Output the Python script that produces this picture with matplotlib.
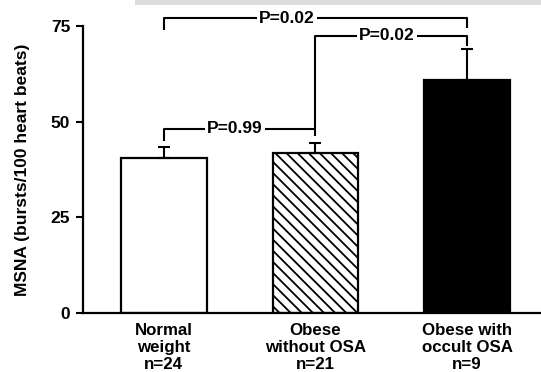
import matplotlib.pyplot as plt
from matplotlib.patches import Rectangle

plt.rcParams['font.family'] = 'Liberation Sans'
plt.rcParams['font.weight'] = 'bold'
plt.rcParams['hatch.linewidth'] = 1.3

# Data
groups = ['Normal\nweight\nn=24', 'Obese\nwithout OSA\nn=21', 'Obese with\noccult OSA\nn=9']
means = [40.5, 41.8, 60.9]
sem = [2.9, 2.7, 8.1]
yticks = [0, 25, 50, 75]

# Significance brackets: (left bar, right bar, line height, left leg end, right leg end, label, label x)
brackets = [
    (0, 2, 77.1, 74.2, 74.8, 'P=0.02', 0.81),
    (1, 2, 72.4, 48.1, 70.0, 'P=0.02', 1.47),
    (0, 1, 48.1, 45.2, 46.5, 'P=0.99', 0.47),
]

fig = plt.figure(figsize=(5.41, 3.72), dpi=100)
ax = fig.add_axes([0.153, 0.159, 0.847, 0.771])

# Grey strip across the top (scan shadow)
fig.patches.append(Rectangle((0.25, 0.986), 0.75, 0.014, transform=fig.transFigure,
                             facecolor='#dcdcdc', edgecolor='none'))

x = range(len(groups))
faces = ['white', 'white', 'black']
hatches = [None, '\\\\\\', None]
for i in x:
    ax.bar(i, means[i], width=0.565, color=faces[i], edgecolor='black',
           linewidth=1.6, hatch=hatches[i], zorder=2)
    # upward-only error bar
    ax.errorbar(i, means[i], yerr=[[0], [sem[i]]], fmt='none', ecolor='black',
                elinewidth=1.5, capsize=4, capthick=1.5, zorder=3)

for a, b, h, la, lb, label, tx in brackets:
    ax.plot([a, a, b, b], [la, h, h, lb], color='black', lw=1.5, clip_on=False, zorder=4)
    ax.text(tx, h, label, ha='center', va='center', fontsize=12.5, fontweight='bold',
            bbox=dict(facecolor='white', edgecolor='none', pad=1.5), zorder=5, clip_on=False)

ax.set_xlim(-0.533, 2.487)
ax.set_ylim(0, 75)
ax.set_yticks(yticks)
ax.set_xticks(list(x))
ax.set_xticklabels(groups, fontsize=12.2, fontweight='bold', linespacing=1.2)
ax.tick_params(axis='x', length=0, pad=7)
ax.tick_params(axis='y', length=5, width=1.5, pad=4, labelsize=12.5)
for s in ['top', 'right']:
    ax.spines[s].set_visible(False)
for s in ['left', 'bottom']:
    ax.spines[s].set_linewidth(1.6)

ax.set_ylabel('MSNA (bursts/100 heart beats)', fontsize=12.5, fontweight='bold')
ax.yaxis.set_label_coords(-0.116, 0.5)

fig.savefig('out.png', dpi=100)
